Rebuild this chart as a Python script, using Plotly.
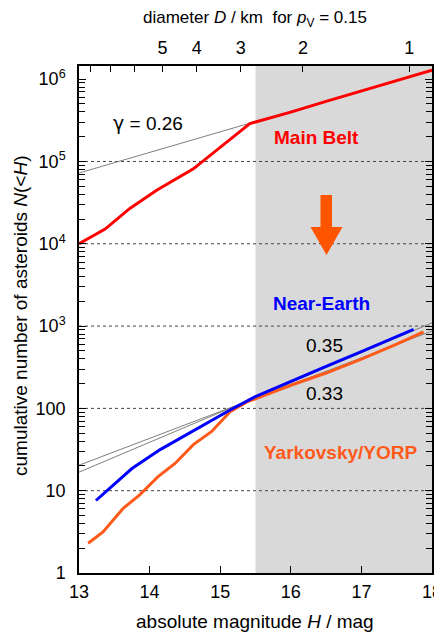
import numpy as np
import plotly.graph_objects as go

# ---- data ----
mb_H = [13.0, 13.37, 13.72, 14.1, 14.62, 15.02, 15.42, 15.5, 16.0, 16.5, 17.0, 17.5, 18.0]
mb_N = [10000, 15100, 26900, 44700, 81300, 151000, 288000, 302000, 398000, 537000, 724000, 966000, 1290000]

nea_H = [13.24, 13.75, 14.15, 14.76, 15.14, 15.49, 16.0, 16.5, 17.0, 17.5, 17.74]
nea_N = [7.6, 18.6, 31.6, 63.1, 95.5, 138, 214, 324, 490, 741, 912]

yorp_H = [13.13, 13.34, 13.63, 13.86, 14.12, 14.36, 14.62, 14.88, 15.14, 15.38, 15.6, 16.0, 16.5, 17.0, 17.5, 17.88]
yorp_N = [2.3, 3.16, 6.17, 8.9, 14.8, 21.4, 36.3, 52.5, 91.2, 120, 141, 191, 269, 398, 603, 851]

fit_mb_H = [13.0, 18.0]
fit_mb_N = [72400, 1290000]
fit_nea_H = [13.0, 18.0]
fit_nea_N = [16.8, 1096]
fit_yorp_H = [13.0, 18.0]
fit_yorp_N = [20.4, 871]

grid_vals = [10, 100, 1e3, 1e4, 1e5]
y_tickvals = [1, 10, 100, 1e3, 1e4, 1e5, 1e6]
y_ticktext = ["1", "10", "100", "10<sup>3</sup>", "10<sup>4</sup>", "10<sup>5</sup>", "10<sup>6</sup>"]
x_tickvals = [13, 14, 15, 16, 17, 18]
diam_labeled = [5, 4, 3, 2, 1]
diam_unlabeled = [8, 7, 6]
albedo = 0.15
shade_start = 15.5

# ---- derived ----
def H_of_D(d):
    return 5 * np.log10(1329.0 / (d * np.sqrt(albedo)))

diam_H = [H_of_D(d) for d in diam_labeled]
diam_text = [str(d) for d in diam_labeled]
diam_minor_H = [H_of_D(d) for d in diam_unlabeled]
minor_vals = [k * 10 ** d for d in range(0, 7) for k in range(2, 10) if k * 10 ** d < 1.45e6]

FONT = "Liberation Sans, Arial, Helvetica, sans-serif"
RED = "#ff0000"
BLUE = "#0000ff"
ORANGE = "#ff5a1a"
GREY = "#7f7f7f"

fig = go.Figure()
for h, n in [(fit_mb_H, fit_mb_N), (fit_nea_H, fit_nea_N), (fit_yorp_H, fit_yorp_N)]:
    fig.add_trace(go.Scatter(x=h, y=n, mode="lines", line=dict(color=GREY, width=1),
                             showlegend=False, hoverinfo="skip"))
fig.add_trace(go.Scatter(x=mb_H, y=mb_N, mode="lines", line=dict(color=RED, width=3), showlegend=False))
fig.add_trace(go.Scatter(x=yorp_H, y=yorp_N, mode="lines", line=dict(color=ORANGE, width=3), showlegend=False))
fig.add_trace(go.Scatter(x=nea_H, y=nea_N, mode="lines", line=dict(color=BLUE, width=3), showlegend=False))
# empty traces so overlay axes render
fig.add_trace(go.Scatter(x=[], y=[], xaxis="x2", yaxis="y2", showlegend=False))

shapes = [dict(type="rect", xref="x", yref="paper", x0=shade_start, x1=18, y0=0, y1=1,
               fillcolor="#d9d9d9", line=dict(width=0), layer="below")]
for g in grid_vals:
    shapes.append(dict(type="line", xref="paper", yref="y", x0=0, x1=1, y0=g, y1=g,
                       line=dict(color="#444444", width=1, dash="dot"), layer="below"))

# big arrow (paper coords, measured in reference pixels)
def px(xp):
    return (xp - 79) / 353.0
def py(yp):
    return (573 - yp) / 507.0
arrow = "M {a},{b} L {c},{b} L {c},{d} L {e},{d} L {f},{g} L {h},{d} L {a},{d} Z".format(
    a=px(320.5), b=py(195), c=px(332), d=py(227), e=px(342.5), f=px(326.5), g=py(255), h=px(310.5))
shapes.append(dict(type="path", xref="paper", yref="paper", path=arrow,
                   fillcolor="#ff5500", line=dict(width=0)))

annos = [
    dict(x=13.98, y=5.47, text="<span style=\"font-family:DejaVu Sans\">\u03b3</span> = 0.26",
         font=dict(size=19, color="black")),
    dict(x=16.37, y=5.29, text="<b>Main Belt</b>", font=dict(size=19, color=RED)),
    dict(x=16.44, y=3.28, text="<b>Near-Earth</b>", font=dict(size=19, color=BLUE)),
    dict(x=16.48, y=2.76, text="0.35", font=dict(size=19, color="black")),
    dict(x=16.48, y=2.18, text="0.33", font=dict(size=19, color="black")),
    dict(x=16.70, y=1.46, text="<b>Yarkovsky/YORP</b>", font=dict(size=19, color=ORANGE)),
]
for a in annos:
    a.update(xref="x", yref="y", showarrow=False, xanchor="center", yanchor="middle")

# axis titles as annotations (paper coords)
annos += [
    dict(xref="paper", yref="paper", x=px(20), y=py(316), textangle=-90, showarrow=False,
         text="cumulative number of asteroids <i>N</i>(<<i>H</i>)", font=dict(size=19),
         xanchor="center", yanchor="middle"),
    dict(xref="paper", yref="paper", x=px(255), y=py(621), showarrow=False,
         text="absolute magnitude <i>H</i> / mag", font=dict(size=19),
         xanchor="center", yanchor="middle"),
    dict(xref="paper", yref="paper", x=px(255), y=py(19), showarrow=False,
         text="diameter <i>D</i> / km\u00a0\u00a0for <i>p</i><sub>V</sub> = 0.15", font=dict(size=17),
         xanchor="center", yanchor="middle"),
]

axis_common = dict(showline=True, linecolor="black", linewidth=1.5, ticks="inside",
                   tickcolor="black", showgrid=False, zeroline=False, automargin=False)

# the page adds an 8px body margin, so the figure is 8px smaller than the window
fig.update_layout(
    width=434, height=627, autosize=False,
    margin=dict(l=71, r=10, t=58, b=62),
    plot_bgcolor="white", paper_bgcolor="white",
    font=dict(family=FONT, size=18, color="black"),
    shapes=shapes, annotations=annos,
    xaxis=dict(range=[13, 18], tickvals=x_tickvals, ticklen=7, tickwidth=1,
               ticklabelstandoff=2, ticklabeloverflow="allow", **axis_common),
    xaxis2=dict(range=[13, 18], overlaying="x", side="top", anchor="y", tickvals=diam_H,
                ticktext=diam_text, ticklen=6, tickwidth=1, ticklabelstandoff=3,
                ticklabeloverflow="allow",
                minor=dict(tickvals=diam_minor_H, ticks="inside", ticklen=6, tickcolor="black", tickwidth=1),
                **axis_common),
    yaxis=dict(type="log", range=[0, 6.16], tickvals=y_tickvals, ticktext=y_ticktext,
               ticklen=7, tickwidth=1, ticklabelstandoff=8,
               minor=dict(tickvals=minor_vals, ticks="inside", ticklen=6, tickcolor="black", tickwidth=1),
               **axis_common),
    yaxis2=dict(type="log", range=[0, 6.16], overlaying="y", side="right", anchor="x",
                tickvals=y_tickvals, showticklabels=False, ticklen=7, tickwidth=1,
                minor=dict(tickvals=minor_vals, ticks="inside", ticklen=6, tickcolor="black", tickwidth=1),
                **axis_common),
)

fig.write_html("out.html")
